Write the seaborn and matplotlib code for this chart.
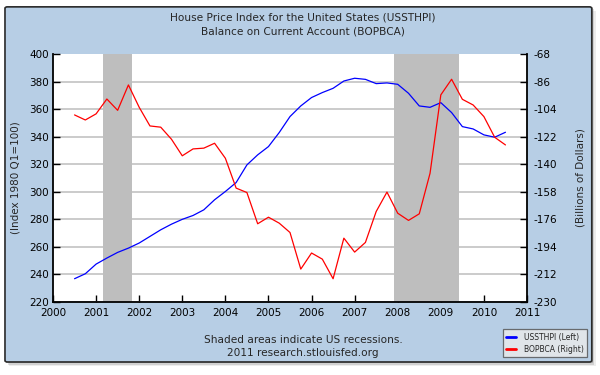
import pandas as pd
import matplotlib
matplotlib.use('Agg')
import matplotlib.pyplot as plt
import seaborn as sns
from matplotlib.patches import FancyBboxPatch, Rectangle
from matplotlib.lines import Line2D

# Quarterly observations, 2000 Q3 to 2010 Q3
quarters = pd.date_range(start='2000-07-01', periods=41, freq='QS')

# House Price Index for the United States (index 1980 Q1=100), left axis
ussthpi = [236.9, 240.5, 247.5, 251.9, 256.0, 259.1, 262.8, 267.6, 272.4, 276.5,
           280.0, 282.8, 286.9, 294.2, 300.2, 306.7, 319.5, 326.8, 332.8, 343.0,
           354.6, 362.3, 368.4, 372.0, 375.1, 380.4, 382.4, 381.6, 378.5, 379.0,
           378.0, 371.5, 362.3, 361.3, 364.7, 357.5, 347.3, 345.6, 341.3, 339.6,
           343.2]

# Balance on Current Account (billions of dollars), right axis
bopbca = [-107.8, -111.1, -107.1, -97.4, -104.8, -88.2, -102.8, -115.0, -115.8, -123.7,
          -134.5, -130.0, -129.5, -126.3, -136.1, -155.6, -158.5, -178.9, -174.6, -178.5,
          -184.6, -208.5, -198.0, -202.0, -214.8, -188.3, -197.4, -191.1, -170.9, -158.2,
          -172.0, -176.7, -172.4, -145.9, -94.7, -84.5, -97.6, -101.3, -108.9, -122.4,
          -127.4]

# US recessions (start, end) as dates
recessions = [('2001-03-01', '2001-11-01'), ('2007-12-01', '2009-06-01')]

left_ticks = [220, 240, 260, 280, 300, 320, 340, 360, 380, 400]
right_ticks = [-230, -212, -194, -176, -158, -140, -122, -104, -86, -68]
year_ticks = list(range(2000, 2012))


def to_year(d):
    d = pd.Timestamp(d)
    return d.year + (d.month - 1) / 12.0


df = pd.DataFrame({
    'year': [to_year(q) for q in quarters],
    'ussthpi': ussthpi,
    'bopbca': bopbca,
})

sns.set_style('white')
plt.rcParams['font.family'] = ['DejaVu Sans']
plt.rcParams['axes.unicode_minus'] = False

panel_color = '#B7CEE5'
fig = plt.figure(figsize=(6, 3.75), dpi=100)

# Drop shadow and light blue panel, kept behind the axes
for off, a in [(0.010, 0.10), (0.007, 0.18), (0.004, 0.28)]:
    fig.patches.append(Rectangle((0.0083 + off * 0.625, 0.0347 - off), 0.978, 0.947,
                                 transform=fig.transFigure, facecolor='#555555',
                                 edgecolor='none', alpha=a, zorder=-3))
fig.patches.append(FancyBboxPatch((0.0083, 0.0347), 0.978, 0.947,
                                  boxstyle='round,pad=0,rounding_size=0.004',
                                  transform=fig.transFigure, facecolor=panel_color,
                                  edgecolor='#2A2A2A', linewidth=1.2, zorder=-2))

ax = fig.add_axes([53 / 600, 1 - 302 / 375, 474 / 600, 248 / 375])
ax.set_facecolor('white')

# Recession shading above the grid
for start, end in recessions:
    ax.axvspan(to_year(start), to_year(end), color='#BEBEBE', lw=0, zorder=1)

sns.lineplot(data=df, x='year', y='ussthpi', ax=ax, color='#0000FF', lw=0.9, zorder=3)
ax.set_xlim(2000, 2011)
ax.set_ylim(220, 400)
ax.set_yticks(left_ticks)
ax.set_xticks(year_ticks)
ax.grid(axis='y', color='#C2C2C2', lw=1.2)
ax.set_axisbelow(True)
# no grid line along the top edge
ax.get_ygridlines()[-1].set_visible(False)
ax.set_xlabel('')
ax.set_ylabel('(Index 1980 Q1=100)', fontsize=7.5, labelpad=6)

ax2 = ax.twinx()
sns.lineplot(data=df, x='year', y='bopbca', ax=ax2, color='#FF0000', lw=0.9, zorder=3)
ax2.set_ylim(-230, -68)
ax2.set_yticks(right_ticks)
ax2.set_xlim(2000, 2011)
ax2.set_ylabel('(Billions of Dollars)', fontsize=7.5, labelpad=13)
ax2.set_xlabel('')

for a in (ax, ax2):
    a.spines['top'].set_visible(False)
    for s in ('left', 'right', 'bottom'):
        a.spines[s].set_color('black')
        a.spines[s].set_linewidth(1.3)
ax.spines['right'].set_visible(False)
ax2.spines['left'].set_visible(False)
ax2.spines['bottom'].set_visible(False)

ax.tick_params(axis='both', direction='in', length=5, width=1, colors='black',
               labelsize=7.5, pad=3, left=True, bottom=True)
ax.tick_params(axis='x', pad=4)
ax2.tick_params(axis='y', direction='in', length=5, width=1, colors='black',
                labelsize=7.5, pad=5, right=True)

# Titles and footer
fig.text(0.505, 1 - 18 / 375, 'House Price Index for the United States (USSTHPI)',
         ha='center', va='center', fontsize=7.6)
fig.text(0.505, 1 - 32 / 375, 'Balance on Current Account (BOPBCA)',
         ha='center', va='center', fontsize=7.6)
fig.text(0.505, 1 - 340 / 375, 'Shaded areas indicate US recessions.',
         ha='center', va='center', fontsize=7.6)
fig.text(0.505, 1 - 353 / 375, '2011 research.stlouisfed.org',
         ha='center', va='center', fontsize=7.6)

handles = [Line2D([], [], color='#0000FF', lw=2), Line2D([], [], color='#FF0000', lw=2)]
leg = fig.legend(handles, ['USSTHPI (Left)', 'BOPBCA (Right)'],
                 loc='lower right', bbox_to_anchor=(587 / 600, 1 - 357 / 375),
                 fontsize=5.5, frameon=True, fancybox=False, handlelength=1.3,
                 handletextpad=1.0, borderpad=0.45, labelspacing=0.35,
                 borderaxespad=0)
leg.get_frame().set_facecolor('#EBEBEB')
leg.get_frame().set_edgecolor('#505050')
leg.get_frame().set_linewidth(0.9)

plt.savefig('out.png', dpi=100)
